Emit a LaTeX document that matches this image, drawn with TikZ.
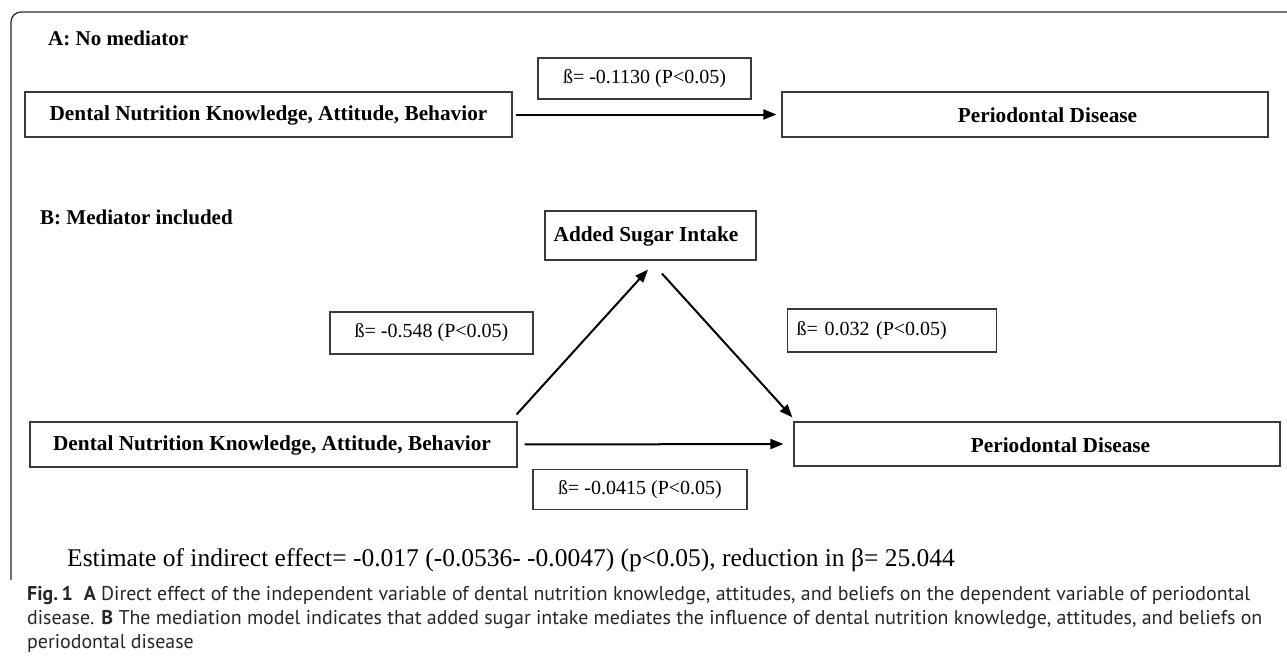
\documentclass[tikz,border=0pt]{standalone}
\usepackage{fontspec}
\setmainfont{Liberation Serif}
\newfontfamily\capfont{PT Sans}
\usetikzlibrary{arrows.meta}
\definecolor{boxgray}{HTML}{3A3A3A}
\newlength\capw
\tikzset{
  boxnode/.style={draw=boxgray, line width=1.2pt, inner sep=0pt, rectangle},
  boxtext/.style={font=\fontsize{21.3}{25}\selectfont\bfseries, inner sep=0pt},
  lbl/.style={draw=boxgray, line width=1.1pt, inner sep=0pt, rectangle, font=\fontsize{20}{24}\selectfont},
  headtext/.style={font=\fontsize{21}{24}\selectfont\bfseries, anchor=base west, inner sep=0pt},
  arr/.style={-{Triangle[length=13pt,width=10pt]}, line width=2pt, black},
  captext/.style={font=\capfont\fontsize{\capsize}{20}\selectfont, anchor=base west, inner sep=0pt, text=black!85},
}
\newcommand\capone{\textbf{Fig.\,1}\hspace{0.55em}\textbf{A} Direct effect of the independent variable of dental nutrition knowledge, attitudes, and beliefs on the dependent variable of periodontal}
\begin{document}
\settowidth{\capw}{\capfont\fontsize{16}{20}\selectfont\capone}%
\pgfmathsetmacro\capsize{16*(1223/\capw)}%
\begin{tikzpicture}[x=1pt,y=-1pt]
\useasboundingbox (0,0) rectangle (1287,664);
% frame
\draw[line width=1.2pt, black!85, rounded corners=10pt] (11,580) -- (11,12) -- (1287,12);

% Panel A
\node[headtext] (ha) at (48,45) {A: No mediator};
\node[boxnode, minimum width=487pt, minimum height=45pt] (a1) at (268.5,114.5) {};
\node[boxtext] (a1t) at (268.5,115) {Dental Nutrition Knowledge, Attitude, Behavior};
\node[boxnode, minimum width=486pt, minimum height=45pt] (a2) at (1025,114.5) {};
\node[boxtext] (a2t) at (1047.5,115) {Periodontal Disease};
\node[lbl, minimum width=213pt, minimum height=41pt] (la) at (644.5,78.5) {ß= -0.1130 (P<0.05)};
\draw[arr, shorten <=3pt, shorten >=5pt] (a1.east) -- (a2.west);

% Panel B
\node[headtext] (hb) at (40,224) {B: Mediator included};
\node[boxnode, minimum width=211pt, minimum height=49pt] (med) at (650.5,235.5) {};
\node[boxtext] (medt) at (646,236) {Added Sugar Intake};
\node[boxnode, minimum width=487pt, minimum height=45pt] (b1) at (273.5,444.5) {};
\node[boxtext] (b1t) at (272,445.5) {Dental Nutrition Knowledge, Attitude, Behavior};
\node[boxnode, minimum width=486pt, minimum height=44pt] (b2) at (1037,444) {};
\node[boxtext] (b2t) at (1060.5,445) {Periodontal Disease};
\node[lbl, minimum width=203pt, minimum height=42pt] (lb1) at (431.5,333) {ß= -0.548 (P<0.05)};
\node[lbl, minimum height=43pt, text width=209pt, align=left, anchor=west] (lb2) at (787,330.5) {\hspace*{9pt}ß= 0.032 (P<0.05)};
\node[lbl, minimum width=214pt, minimum height=40pt] (lb3) at (640,489.5) {ß= -0.0415 (P<0.05)};

\draw[arr] ([xshift=-1pt,yshift=7pt]b1.north east) -- ([xshift=-2.5pt,yshift=-9pt]med.south);
\draw[arr] ([xshift=11.5pt,yshift=-13pt]med.south) -- ([xshift=-1pt,yshift=4pt]b2.north west);
\draw[arr, shorten <=7pt, shorten >=10pt] (b1.east) -- (b2.west);

% estimate
\node[font=\fontsize{25.5}{28}\selectfont, anchor=base west, inner sep=0pt] (est) at (67,566) {Estimate of indirect effect= -0.017 (-0.0536- -0.0047) (p<0.05), reduction in β= 25.044};

% caption
\node[captext] (c1) at (27,600) {\capone};
\node[captext] (c2) at (27,624) {disease. \textbf{B} The mediation model indicates that added sugar intake mediates the influence of dental nutrition knowledge, attitudes, and beliefs on};
\node[captext] (c3) at (27,648) {periodontal disease};
\end{tikzpicture}
\end{document}
